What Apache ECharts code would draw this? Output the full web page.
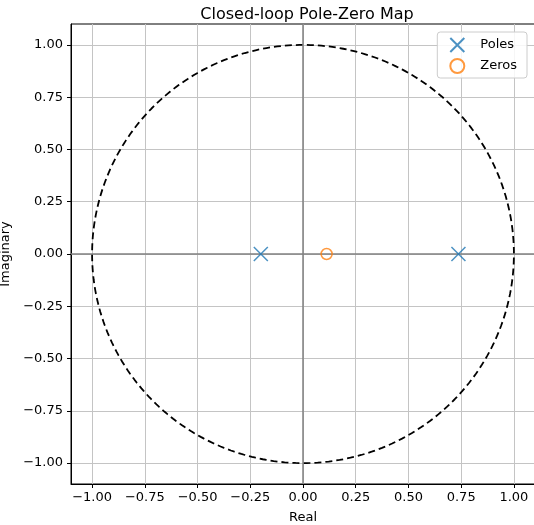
<!DOCTYPE html>
<html>
<head>
<meta charset="utf-8">
<script src="https://cdn.jsdelivr.net/npm/echarts@6/dist/echarts.min.js"></script>
<style>
  html, body { margin: 0; padding: 0; background: #fff; }
  #chart { width: 534px; height: 525px; }
</style>
</head>
<body>
<div id="chart"></div>
<script>
// pole / zero locations (real, imag)
const poles = [[-0.2, 0], [0.737, 0]];
const zeros = [[0.112, 0]];
const tickValues = [-1, -0.75, -0.5, -0.25, 0, 0.25, 0.5, 0.75, 1];

// unit circle reference
const circle = [];
for (let i = 0; i <= 360; i++) {
    const a = i * Math.PI / 180;
    circle.push([Math.cos(a), Math.sin(a)]);
}

const fmt = v => v.toFixed(2).replace('-', '\u2212');
const font = 'DejaVu Sans';
const xMark = 'path://M0,0L10,10M10,0L0,10';

function axis(name, gap, rotate, margin) {
    return {
        type: 'value',
        min: -1.1,
        max: 1.1,
        name: name,
        nameLocation: 'middle',
        nameGap: gap,
        nameRotate: rotate,
        nameTextStyle: {color: '#000', fontSize: 13, fontFamily: font},
        axisLine: {show: true, onZero: false, lineStyle: {color: '#000', width: 1}},
        axisTick: {show: true, length: 4, customValues: tickValues, lineStyle: {color: '#000'}},
        axisLabel: {customValues: tickValues, formatter: fmt, color: '#000', fontSize: 13, fontFamily: font, margin: margin},
        splitLine: {show: true, lineStyle: {color: '#c4c4c4', width: 1}}
    };
}

const chart = echarts.init(document.getElementById('chart'));
chart.setOption({
    animation: false,
    backgroundColor: '#fff',
    title: {
        text: 'Closed-loop Pole-Zero Map',
        left: 302, top: 2, textAlign: 'center',
        textStyle: {fontSize: 16, fontWeight: 'normal', color: '#000', fontFamily: font}
    },
    legend: {
        data: ['Poles', 'Zeros'],
        orient: 'vertical',
        right: 7, top: 32,
        itemWidth: 16, itemHeight: 14, itemGap: 5,
        padding: [5, 10, 4, 12],
        borderColor: '#ccc', borderWidth: 1, borderRadius: 3,
        backgroundColor: 'rgba(255,255,255,0.85)',
        textStyle: {fontSize: 13, color: '#000', fontFamily: font, padding: [0, 0, 0, 10]}
    },
    grid: {left: 71, top: 24, width: 464, height: 460, outerBoundsMode: 'none',
        show: true, borderColor: '#000', borderWidth: 1},
    xAxis: axis('Real', 27, 0, 7),
    yAxis: axis('Imaginary', 56, 90, 8),
    series: [
        {
            name: 'circle', type: 'line', data: circle, showSymbol: false, symbol: 'none',
            lineStyle: {color: '#000', width: 1.8, type: [7, 4]}, z: 3,
            markLine: {
                silent: true, symbol: 'none', label: {show: false},
                lineStyle: {color: '#808080', width: 1.5, type: 'solid'},
                data: [{xAxis: 0}, {yAxis: 0}]
            }
        },
        {
            name: 'Poles', type: 'scatter', data: poles, symbol: xMark, symbolSize: 14,
            itemStyle: {color: 'transparent', borderColor: '#1f77b4', borderWidth: 1.5}, z: 5
        },
        {
            name: 'Zeros', type: 'scatter', data: zeros, symbol: 'circle', symbolSize: 11,
            itemStyle: {color: 'transparent', borderColor: '#ff7f0e', borderWidth: 1.5}, z: 5
        }
    ]
});
</script>
</body>
</html>
